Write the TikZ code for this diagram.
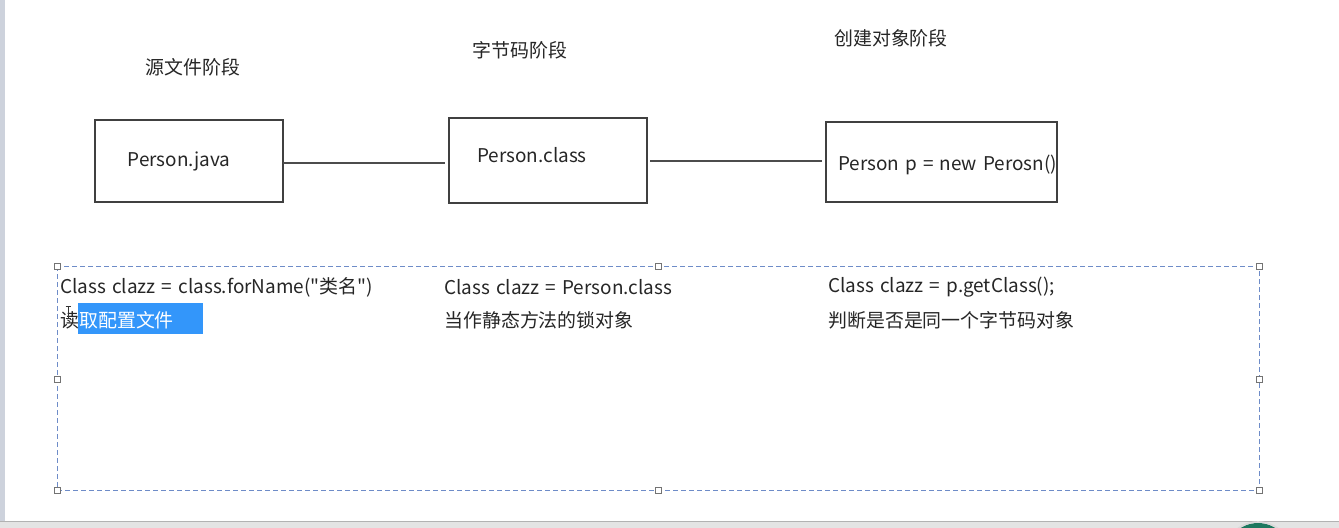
\documentclass[tikz,border=0pt]{standalone}
\usepackage{fontspec}
\setmainfont{Noto Sans CJK SC}[Ligatures=TeXOff]
\newcommand\widespaces{\spaceskip=0.32em plus 0.1em\relax}
\begin{document}
\begin{tikzpicture}[x=0.75pt,y=-0.75pt,
  font=\fontsize{14.2}{16}\selectfont,
  execute at begin node=\widespaces,
  stagebox/.style={draw=black!75, line width=0.8pt, inner sep=0pt},
  link/.style={draw=black!70, line width=0.8pt},
  plain/.style={inner sep=0pt, anchor=west, text=black!85},
  title/.style={inner sep=0pt, text=black!85},
  selframe/.style={draw={rgb,255:red,110;green,140;blue,200}, line width=0.7pt, dash pattern=on 3.5pt off 2.5pt},
  handle/.style={draw=black!55, fill=white, line width=0.6pt, minimum size=4.5pt, inner sep=0pt, rectangle}
]
\definecolor{selblue}{RGB}{51,150,250}
\definecolor{edgegray}{RGB}{205,210,220}
\definecolor{bargray}{RGB}{228,228,228}
\definecolor{orbgreen}{RGB}{30,120,95}

% page frame
\useasboundingbox (0,0) rectangle (1339,528);
\fill[white] (0,0) rectangle (1339,528);
\clip (0,0) rectangle (1339,528);
\fill[edgegray] (0,0) rectangle (5,528);
\fill[bargray] (0,521) rectangle (1339,528);
\draw[black!30, line width=0.5pt] (0,521) -- (1339,521);
\fill[orbgreen] (1258,556) circle (33);
\draw[white!85!black, line width=1.2pt] (1258,556) circle (34);

% stage titles
\node[title] (t1) at (193,67) {源文件阶段};
\node[title] (t2) at (520,50) {字节码阶段};
\node[title] (t3) at (891,38) {创建对象阶段};

% stage boxes
\node[stagebox, minimum width=188*0.75pt, minimum height=82*0.75pt] (b1) at (189,161) {};
\node[stagebox, minimum width=198*0.75pt, minimum height=85*0.75pt] (b2) at (548,160.5) {};
\node[stagebox, minimum width=231*0.75pt, minimum height=80*0.75pt] (b3) at (941.5,162) {};

\node[title] (l1) at (179,161) {Person.java};
\node[title] (l2) at (532,155) {Person.class};
\node[plain] (l3) at (838,165) {Person p = new Perosn()};

% connectors between stages
\coordinate (c1a) at (283,163);
\coordinate (c1b) at (445,163);
\coordinate (c2a) at (650,161);
\coordinate (c2b) at (822,161);
\draw[link] (c1a) -- (c1b);
\draw[link] (c2a) -- (c2b);

% selected text frame with handles
\draw[selframe] (57,266) rectangle (1259,490);
\foreach \hx/\hy [count=\i] in {57/266,658/266,1259/266,57/379,1259/379,57/490,658/490,1259/490}
  \node[handle] (h\i) at (\hx,\hy) {};

% notes for each stage
\node[plain] (n1) at (60,287) {Class clazz = class.forName("类名")};
\node[plain] (n2) at (444,287) {Class clazz = Person.class};
\node[plain] (n3) at (828,287) {Class clazz = p.getClass();};

\fill[selblue] (78,303) rectangle (203,334);
\node[plain] (m1) at (60,320) {读\textcolor{white}{取配置文件}};
\node[plain] (m2) at (444,320) {当作静态方法的锁对象};
\node[plain] (m3) at (828,320) {判断是否是同一个字节码对象};

% text cursor
\draw[black!80, line width=0.5pt] (68,306) -- (68,318) (65.5,306) -- (70.5,306) (65.5,318) -- (70.5,318);
\end{tikzpicture}
\end{document}
